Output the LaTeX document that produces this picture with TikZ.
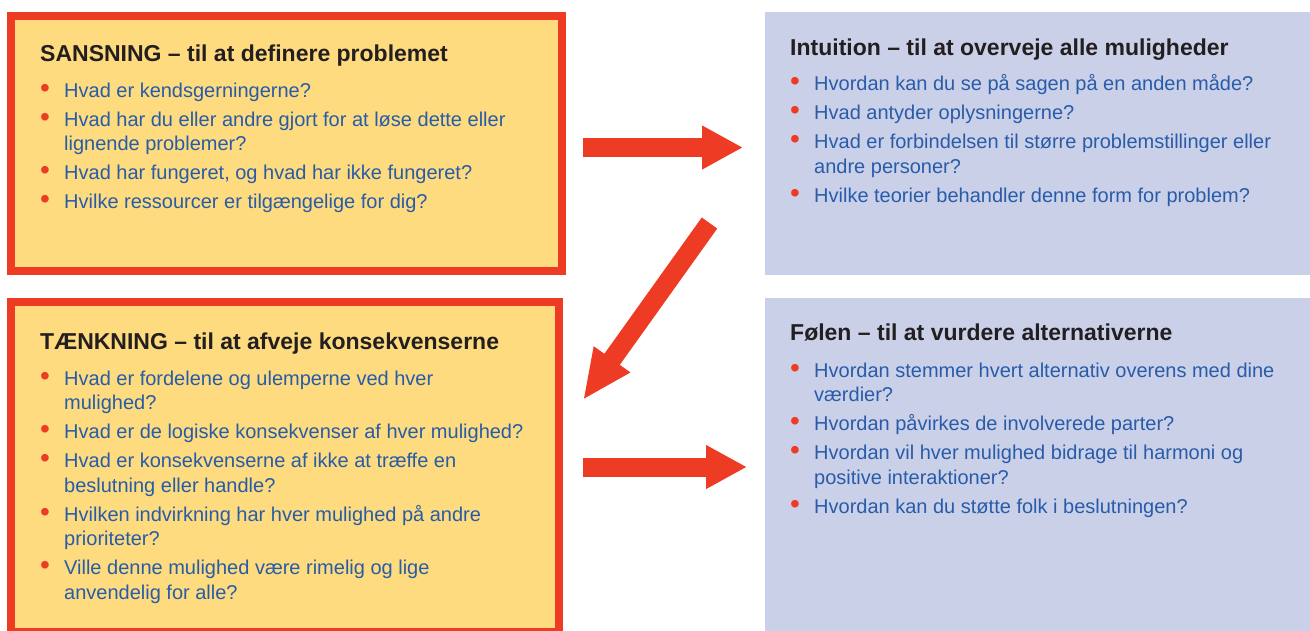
\documentclass[tikz,border=0pt]{standalone}
\usepackage{fontspec}
\setmainfont{Liberation Sans}
\usepackage{xcolor}
\usetikzlibrary{arrows.meta}

\definecolor{gulbund}{RGB}{253,219,126}
\definecolor{rodkant}{RGB}{238,59,36}
\definecolor{blaabund}{RGB}{203,208,233}
\definecolor{tekstblaa}{RGB}{40,92,168}
\definecolor{overskrift}{RGB}{35,31,32}

\newcommand{\qpunkt}[1]{\par\hangindent=24pt\hangafter=1\noindent\makebox[24pt][l]{\textcolor{rodkant}{\scalebox{1.4}{\textbullet}}}#1\par\vspace{4.5pt}}

\begin{document}
\begin{tikzpicture}[x=1pt,y=-1pt,
   gulkasse/.style={draw=rodkant,line width=8pt,fill=gulbund,anchor=north west,inner sep=0pt},
   blaakasse/.style={fill=blaabund,anchor=north west,inner sep=0pt,outer sep=0pt},
   hoved/.style={anchor=base west,inner sep=0pt,text=overskrift,font=\bfseries\fontsize{23}{27}\selectfont},
   liste/.style={anchor=base west,inner sep=0pt,text=tekstblaa,font=\fontsize{20}{24.5}\selectfont},
   bigpil/.style={draw=rodkant,line width=19pt,-{Triangle[length=41pt,width=41pt]}}]
   \useasboundingbox (0,0) rectangle (1310,630);
   % boxes
   \node [gulkasse,minimum width=551pt,minimum height=255pt] (sansBox) at (7,12) {};
   \node [gulkasse,minimum width=548pt,minimum height=330pt] (taenkBox) at (7,298) {};
   \node [blaakasse,minimum width=545pt,minimum height=263pt] (intuBox) at (765,12) {};
   \node [blaakasse,minimum width=545pt,minimum height=338pt] (foelBox) at (765,298) {};
   % sansning
   \node [hoved] (sansHead) at (40,61) {SANSNING – til at definere problemet};
   \node [liste] (sansList) at (40,97) {\parbox[t]{520pt}{%
      \qpunkt{Hvad er kendsgerningerne?}
      \qpunkt{Hvad har du eller andre gjort for at løse dette eller\newline lignende problemer?}
      \qpunkt{Hvad har fungeret, og hvad har ikke fungeret?}
      \qpunkt{Hvilke ressourcer er tilgængelige for dig?}}};
   % intuition
   \node [hoved] (intuHead) at (790,55) {Intuition – til at overveje alle muligheder};
   \node [liste] (intuList) at (790,90.7) {\parbox[t]{520pt}{%
      \qpunkt{Hvordan kan du se på sagen på en anden måde?}
      \qpunkt{Hvad antyder oplysningerne?}
      \qpunkt{Hvad er forbindelsen til større problemstillinger eller\newline andre personer?}
      \qpunkt{Hvilke teorier behandler denne form for problem?}}};
   % taenkning
   \node [hoved] (taenkHead) at (40,349) {TÆNKNING – til at afveje konsekvenserne};
   \node [liste] (taenkList) at (40,385) {\parbox[t]{520pt}{%
      \qpunkt{Hvad er fordelene og ulemperne ved hver\newline mulighed?}
      \qpunkt{Hvad er de logiske konsekvenser af hver mulighed?}
      \qpunkt{Hvad er konsekvenserne af ikke at træffe en\newline beslutning eller handle?}
      \qpunkt{Hvilken indvirkning har hver mulighed på andre\newline prioriteter?}
      \qpunkt{Ville denne mulighed være rimelig og lige\newline anvendelig for alle?}}};
   % foelen
   \node [hoved] (foelHead) at (790,340) {Følen – til at vurdere alternativerne};
   \node [liste] (foelList) at (790,377) {\parbox[t]{520pt}{%
      \qpunkt{Hvordan stemmer hvert alternativ overens med dine\newline værdier?}
      \qpunkt{Hvordan påvirkes de involverede parter?}
      \qpunkt{Hvordan vil hver mulighed bidrage til harmoni og\newline positive interaktioner?}
      \qpunkt{Hvordan kan du støtte folk i beslutningen?}}};
   % arrows
   \draw [bigpil] ([shift={(17,4)}]sansBox.east) -- ([shift={(-22,4)}]intuBox.west);
   \draw [bigpil,-{Triangle[length=50pt,width=41pt]}] ([shift={(-55.5,-52)}]intuBox.south west) -- ([shift={(20,102)}]taenkBox.north east);
   \draw [bigpil] ([xshift=20pt]taenkBox.east) -- ([xshift=-18pt]foelBox.west);
\end{tikzpicture}
\end{document}
